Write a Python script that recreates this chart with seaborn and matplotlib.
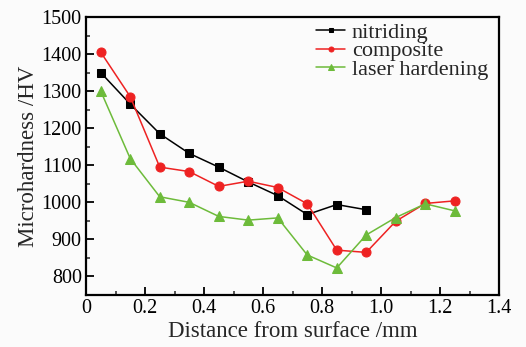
import numpy as np
import pandas as pd
import seaborn as sns
import matplotlib
matplotlib.use("Agg")
import matplotlib.pyplot as plt
from matplotlib.ticker import MultipleLocator

x_nitriding = [0.05, 0.15, 0.25, 0.35, 0.45, 0.55, 0.65, 0.75, 0.85, 0.95]
nitriding = [1350, 1265, 1185, 1132, 1095, 1055, 1018, 967, 994, 980]
x_composite = [0.05, 0.15, 0.25, 0.35, 0.45, 0.55, 0.65, 0.75, 0.85, 0.95, 1.05, 1.15, 1.25]
composite = [1405, 1285, 1095, 1083, 1043, 1057, 1040, 996, 871, 865, 949, 997, 1004]
x_laser = [0.05, 0.15, 0.25, 0.35, 0.45, 0.55, 0.65, 0.75, 0.85, 0.95, 1.05, 1.15, 1.25]
laser = [1300, 1118, 1015, 1000, 962, 952, 958, 858, 823, 912, 959, 996, 977]
series_names = ["nitriding", "composite", "laser hardening"]
xtick_labels = ["0", "0.2", "0.4", "0.6", "0.8", "1.0", "1.2", "1.4"]

sns.set_style("ticks")
plt.rcParams['font.family'] = ['Liberation Serif', 'DejaVu Serif']

fig = plt.figure(figsize=(5.26, 3.47), dpi=100, facecolor="#fbfbfb")
ax = fig.add_axes([86/526, 1-295/347, 413/526, 278/347])
ax.set_facecolor("#fbfbfb")

specs = [
    (x_nitriding, nitriding, series_names[0], "black", "s", 6),
    (x_composite, composite, series_names[1], "#ee2222", "o", 6.5),
    (x_laser, laser, series_names[2], "#6dbb3a", "^", 7),
]
for xs, ys, name, col, mk, ms in specs:
    df = pd.DataFrame({"x": xs, "y": ys})
    sns.lineplot(data=df, x="x", y="y", ax=ax, color=col, marker=mk, markersize=ms,
                 markeredgecolor=col, linewidth=1.1, label=name)

ax.set_xlim(0, 1.4)
ax.set_ylim(750, 1500)
ax.xaxis.set_minor_locator(MultipleLocator(0.1))
ax.yaxis.set_major_locator(MultipleLocator(100))
ax.yaxis.set_minor_locator(MultipleLocator(50))
ax.set_xticks(np.arange(0, 1.41, 0.2))
ax.set_xticklabels(xtick_labels)
ax.tick_params(axis="both", which="major", direction="in", length=6, width=1.3, labelsize=14.5, colors="black", pad=3)
ax.tick_params(axis="both", which="minor", direction="in", length=3, width=1.1)
for s in ax.spines.values():
    s.set_linewidth(1.6)
    s.set_color("black")
ax.set_xlabel("Distance from surface /mm", fontsize=16.5, labelpad=2)
ax.set_ylabel("Microhardness /HV", fontsize=16.5, labelpad=2)

leg = ax.legend(loc="upper right", frameon=False, fontsize=16, handlelength=1.3,
                handletextpad=0.3, labelspacing=-0.1, borderaxespad=0.1,
                bbox_to_anchor=(1.0, 1.02), markerscale=0.55)
fig.savefig("out.png", dpi=100, facecolor=fig.get_facecolor())
